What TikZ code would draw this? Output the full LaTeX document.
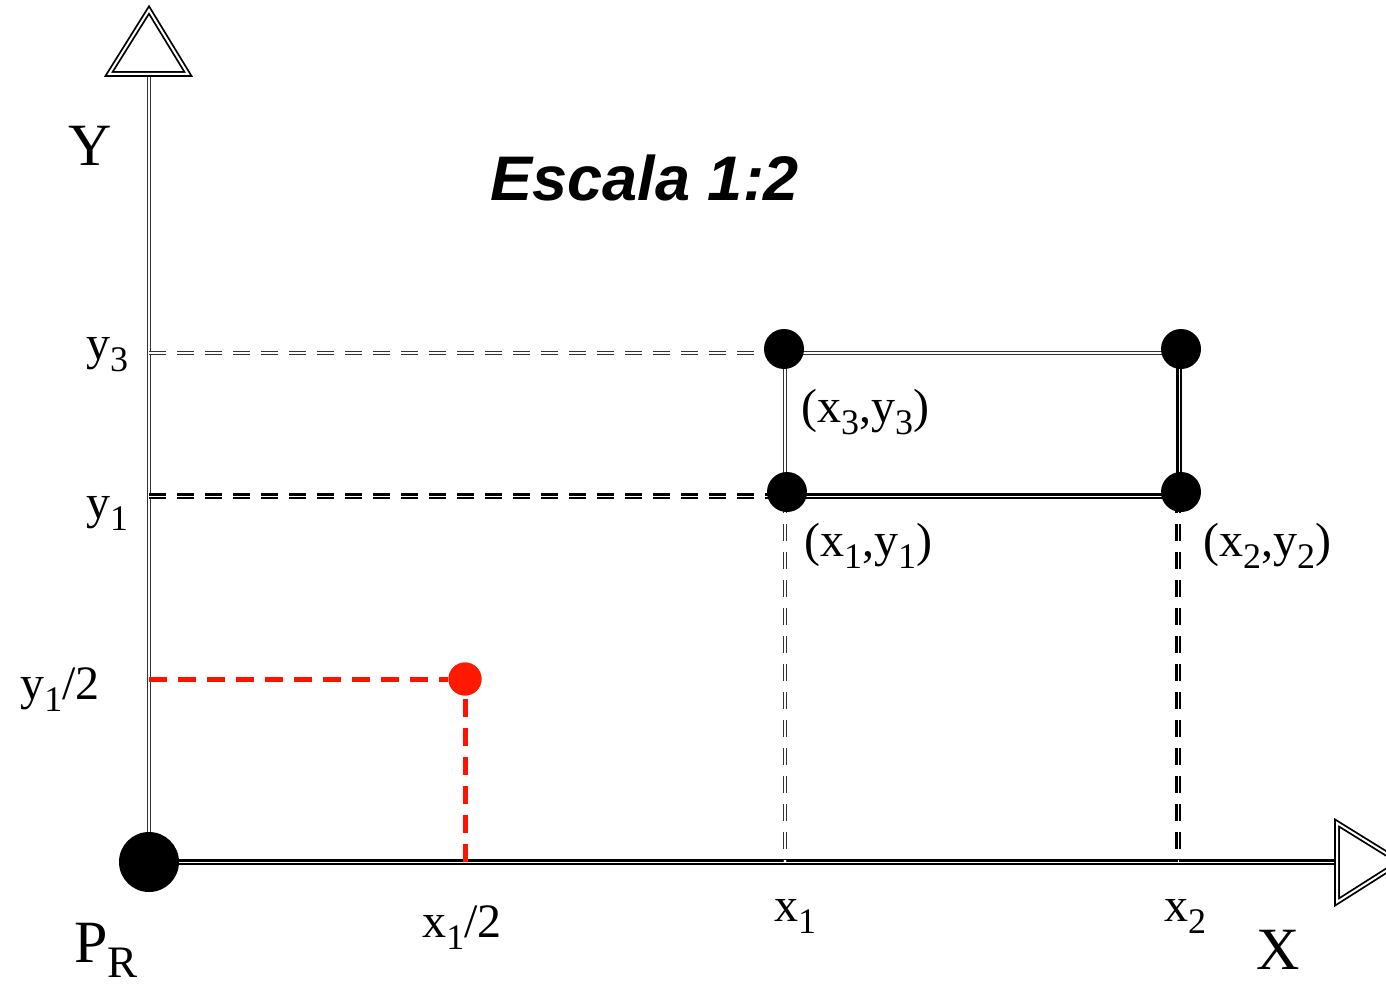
\documentclass[tikz,border=0pt]{standalone}
\usepackage{fontspec}
\setmainfont{Liberation Serif}
\newfontfamily\hvfont{Liberation Sans}
\newcommand\lo[1]{\raisebox{-0.25em}{\scalebox{0.75}{#1}}}
\begin{document}
\begin{tikzpicture}[x=1pt,y=-1pt,
  lightdbl/.style={draw=black!80,line width=1.3pt,double=white,double distance=2pt},
  darkdbl/.style={draw=black,line width=2.1pt,double=white,double distance=1pt},
  dashpat/.style={dash pattern=on 17pt off 11pt},
  reddash/.style={draw=red!85!orange,line width=5pt,dash pattern=on 18pt off 11pt},
  dot/.style={circle,fill=black,inner sep=0pt,minimum size=40pt},
  lbl/.style={font=\fontsize{48}{50}\selectfont,inner sep=0pt},
  axlbl/.style={font=\fontsize{60}{62}\selectfont,inner sep=0pt}]
\useasboundingbox (0,0) rectangle (1386,987);
\clip (0,0) rectangle (1386,987);
% axes
\coordinate (O) at (149,862);
\coordinate (Ytop) at (149,75);
\coordinate (Xend) at (1335,862);
\draw[lightdbl] (O) -- (Ytop);
\draw[darkdbl] (O) -- (Xend);
\draw[lightdbl,draw=black,line width=1.8pt,line join=miter] (109,74) -- (149,10) -- (188,74) -- cycle;
\draw[lightdbl,draw=black,line width=1.8pt,line join=miter] (1337,823) -- (1400,862) -- (1337,902) -- cycle;
\node[dot,minimum size=60pt] (PR) at (O) {};
% rectangle corners (line positions)
\coordinate (c3) at (785,353);
\coordinate (c4) at (1179,353);
\coordinate (c1) at (785,496);
\coordinate (c2) at (1179,496);
\draw[lightdbl] (c3) -- (c4);
\draw[darkdbl] (c1) -- (c2);
\draw[lightdbl] (c3) -- (c1);
\draw[darkdbl] (c4) -- (c2);
% dashed projections
\coordinate (ay3) at (149,353);
\coordinate (ay1) at (149,496);
\coordinate (ax1) at (785,862);
\coordinate (ax2) at (1178,862);
\coordinate (ayh) at (149,679);
\coordinate (axh) at (465,862);
\draw[lightdbl,dashpat] (ay3) -- (c3);
\draw[darkdbl,dashpat] (ay1) -- (c1);
\draw[lightdbl,dashpat] (c1) -- (ax1);
\draw[darkdbl,dashpat] (c2 -| ax2) -- (ax2);
% points
\node[dot] (p3) at (784,349) {};
\node[dot] (p4) at (1181,349) {};
\node[dot] (p1) at (787,492) {};
\node[dot] (p2) at (1181,492) {};
\node[circle,fill=red!80!orange,inner sep=0pt,minimum size=33pt] (ph) at (465,679) {};
\draw[reddash] (ayh) -- (ph);
\draw[reddash] (axh) -- (ph);
\node[circle,fill=red!80!orange,inner sep=0pt,minimum size=33pt] at (ph) {};
% labels
\node[axlbl] (Ylab) at (90,146) {Y};
\node[axlbl] (Xlab) at (1278,950) {X};
\node[axlbl] (PRlab) at (106,950) {P\lo{R}};
\node[font=\hvfont\bfseries\itshape\fontsize{63}{65}\selectfont,inner sep=0pt] (title) at (645,178) {Escala 1:2};
\node[lbl] (ly3) at (107,355) {y\lo{3}};
\node[lbl] (ly1) at (107,513) {y\lo{1}};
\node[lbl] (lyh) at (60,690) {y\lo{1}/2};
\node[lbl] (lx1) at (795,916) {x\lo{1}};
\node[lbl] (lx2) at (1185,916) {x\lo{2}};
\node[lbl] (lxh) at (462,928) {x\lo{1}/2};
\node[lbl] (l3) at (865,412) {(x\lo{3},y\lo{3})};
\node[lbl] (l1) at (868,546) {(x\lo{1},y\lo{1})};
\node[lbl] (l2) at (1267,546) {(x\lo{2},y\lo{2})};
\end{tikzpicture}
\end{document}
